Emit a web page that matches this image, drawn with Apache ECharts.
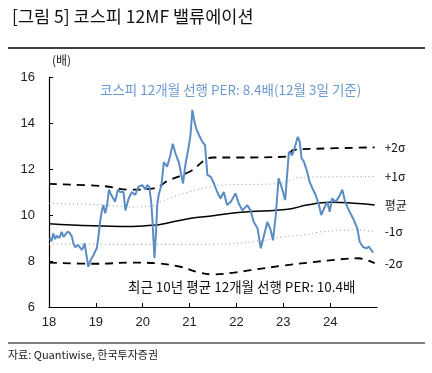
<!DOCTYPE html>
<html><head><meta charset="utf-8">
<script src="https://cdn.jsdelivr.net/npm/echarts@6/dist/echarts.min.js"></script>
<style>html,body{margin:0;padding:0;background:#fff}#c{width:432px;height:373px}</style>
</head><body><div id="c"></div>
<script>
// KOSPI 12M forward PER (year as decimal, value in 배)
const perYears = [2018.02,2018.05,2018.09,2018.13,2018.165,2018.22,2018.27,2018.31,2018.34,2018.40,2018.45,2018.49,2018.52,2018.56,2018.59,2018.62,2018.66,2018.70,2018.73,2018.76,2018.81,2018.84,2018.88,2018.91,2018.95,2018.98,2019.02,2019.06,2019.09,2019.13,2019.16,2019.20,2019.24,2019.28,2019.31,2019.34,2019.41,2019.47,2019.52,2019.59,2019.63,2019.70,2019.77,2019.84,2019.91,2019.99,2020.06,2020.09,2020.14,2020.18,2020.21,2020.25,2020.28,2020.31,2020.34,2020.40,2020.45,2020.52,2020.59,2020.64,2020.70,2020.77,2020.86,2020.91,2020.97,2021.02,2021.06,2021.09,2021.14,2021.20,2021.27,2021.33,2021.38,2021.45,2021.52,2021.59,2021.66,2021.73,2021.80,2021.88,2021.98,2022.05,2022.13,2022.23,2022.30,2022.37,2022.45,2022.52,2022.59,2022.66,2022.73,2022.78,2022.84,2022.90,2022.97,2023.04,2023.12,2023.19,2023.26,2023.31,2023.35,2023.39,2023.44,2023.51,2023.56,2023.62,2023.69,2023.76,2023.81,2023.87,2023.94,2023.99,2024.04,2024.12,2024.19,2024.26,2024.32,2024.40,2024.49,2024.58,2024.63,2024.70,2024.77,2024.83,2024.90,2024.93];
const perValues = [9.0,8.85,9.2,8.95,9.1,9.0,9.27,9.05,9.13,9.28,9.2,9.05,8.77,8.6,8.55,8.7,8.62,8.48,8.6,8.77,8.12,7.75,8.0,8.12,8.25,8.4,8.55,9.13,9.7,10.2,10.43,10.07,10.43,11.1,10.95,10.9,10.58,11.1,11.0,11.0,10.2,10.72,11.0,10.87,11.23,11.3,11.1,11.3,11.23,10.58,9.7,8.12,9.13,10.43,10.87,11.3,12.3,12.1,12.6,13.1,12.67,12.3,11.37,12.17,12.83,13.48,14.57,14.2,13.77,13.48,13.19,13.04,11.74,11.67,11.37,11.0,10.72,11.0,10.43,10.58,10.94,10.5,10.2,10.43,10.2,9.7,9.42,8.55,9.13,9.7,9.35,8.9,10.0,11.6,11.17,10.65,12.75,12.6,13.04,13.4,13.19,12.47,12.32,11.88,11.45,11.17,10.87,10.43,10.0,10.29,10.58,10.14,10.72,10.58,10.8,11.1,10.58,10.2,9.85,9.42,8.84,8.62,8.55,8.62,8.4,8.4];

// Bands: 10y mean and ±1σ, ±2σ
const meanYears = [2018.0,2019.7,2020.3,2020.4,2021.0,2021.5,2022.1,2023.1,2023.5,2024.0,2024.6,2024.95];
const meanValues = [9.62,9.5,9.57,9.6,9.85,9.97,10.12,10.25,10.43,10.55,10.5,10.43];
const p2Years = [2018.0,2019.2,2019.7,2020.2,2020.4,2020.5,2021.0,2021.5,2022.0,2023.1,2023.2,2023.7,2024.95];
const p2Values = [11.35,11.25,11.1,11.15,11.3,11.45,11.88,12.5,12.5,12.54,12.82,12.88,12.94];
const p1Years = [2018.0,2019.0,2019.8,2020.2,2020.4,2020.9,2021.4,2021.7,2022.9,2023.4,2024.95];
const p1Values = [10.5,10.45,10.35,10.4,10.6,10.95,11.2,11.3,11.37,11.64,11.67];
const m1Years = [2018.0,2020.3,2021.5,2022.4,2023.0,2023.5,2023.8,2024.6,2024.95];
const m1Values = [8.74,8.72,8.73,8.84,9.05,9.15,9.27,9.35,9.27];
const m2Years = [2018.0,2019.0,2019.8,2020.3,2020.8,2021.2,2021.5,2021.9,2022.3,2023.0,2023.5,2024.1,2024.6,2024.95];
const m2Values = [7.93,7.88,7.93,7.9,7.75,7.5,7.42,7.48,7.6,7.8,7.92,8.05,8.12,7.9];

const xTicks = [2018,2019,2020,2021,2022,2023,2024];
const yMin = 6, yMax = 16, yStep = 2;

const zip = (a,b) => a.map((v,i)=>[v,b[i]]);
const KR = '"Noto Sans CJK KR","Noto Sans",sans-serif';
const LAT = '"Liberation Sans",Arial,sans-serif';

const chart = echarts.init(document.getElementById('c'), null, {renderer:'canvas'});
const endLbl = (t) => ({show:true, formatter:t, distance:10, color:'#111', fontSize:12, fontFamily:KR});
chart.setOption({
  animation:false,
  backgroundColor:'#fff',
  grid:{left:49, right:55, top:77, bottom:66},
  xAxis:{type:'value', min:2018, max:2025, interval:1,
    axisLine:{lineStyle:{color:'#000', width:1.2}},
    axisTick:{inside:true, length:4, lineStyle:{color:'#000'}, customValues:xTicks},
    axisLabel:{customValues:xTicks, formatter:v=>String(v-2000), color:'#222', fontSize:13, fontFamily:LAT, margin:9},
    splitLine:{show:false}},
  yAxis:{type:'value', min:yMin, max:yMax, interval:yStep,
    axisLine:{show:true, lineStyle:{color:'#000', width:1.2}},
    axisTick:{show:true, inside:true, length:4, lineStyle:{color:'#000'}},
    axisLabel:{color:'#222', fontSize:13, fontFamily:LAT, margin:14},
    splitLine:{show:false}},
  graphic:[
    {type:'text', left:12, top:8, style:{text:'[그림 5] 코스피 12MF 밸류에이션', font:'17.5px '+KR, fill:'#111'}},
    {type:'line', shape:{x1:8,y1:48,x2:425,y2:48}, style:{stroke:'#000', lineWidth:1.5}},
    {type:'text', left:52, top:54, style:{text:'(배)', font:'12px '+KR, fill:'#222'}},
    {type:'text', left:100, top:83, style:{text:'코스피 12개월 선행 PER: 8.4배(12월 3일 기준)', font:'13.5px '+KR, fill:'#6A9AD0'}},
    {type:'text', left:128, top:280, style:{text:'최근 10년 평균 12개월 선행 PER: 10.4배', font:'13.5px '+KR, fill:'#111'}},
    {type:'line', shape:{x1:8,y1:343,x2:425,y2:343}, style:{stroke:'#000', lineWidth:1.2}},
    {type:'text', left:8, top:349, style:{text:'자료: Quantiwise, 한국투자증권', font:'11px '+KR, fill:'#222'}}
  ],
  series:[
    {type:'line', data:zip(p1Years,p1Values), symbol:'none', smooth:0.4, lineStyle:{color:'#999', width:1, type:[1,3]}, endLabel:endLbl('+1σ'), z:2},
    {type:'line', data:zip(m1Years,m1Values), symbol:'none', smooth:0.4, lineStyle:{color:'#999', width:1, type:[1,3]}, endLabel:endLbl('-1σ'), z:2},
    {type:'line', data:zip(p2Years,p2Values), symbol:'none', smooth:0.4, lineStyle:{color:'#000', width:1.8, type:[8,6]}, endLabel:endLbl('+2σ'), z:3},
    {type:'line', data:zip(m2Years,m2Values), symbol:'none', smooth:0.4, lineStyle:{color:'#000', width:1.8, type:[8,6]}, endLabel:endLbl('-2σ'), z:3},
    {type:'line', data:zip(meanYears,meanValues), symbol:'none', smooth:0.4, lineStyle:{color:'#000', width:1.5}, endLabel:endLbl('평균'), z:3},
    {type:'line', data:zip(perYears,perValues), symbol:'none', lineStyle:{color:'#5B8CC4', width:2}, z:4}
  ]
});
</script></body></html>
